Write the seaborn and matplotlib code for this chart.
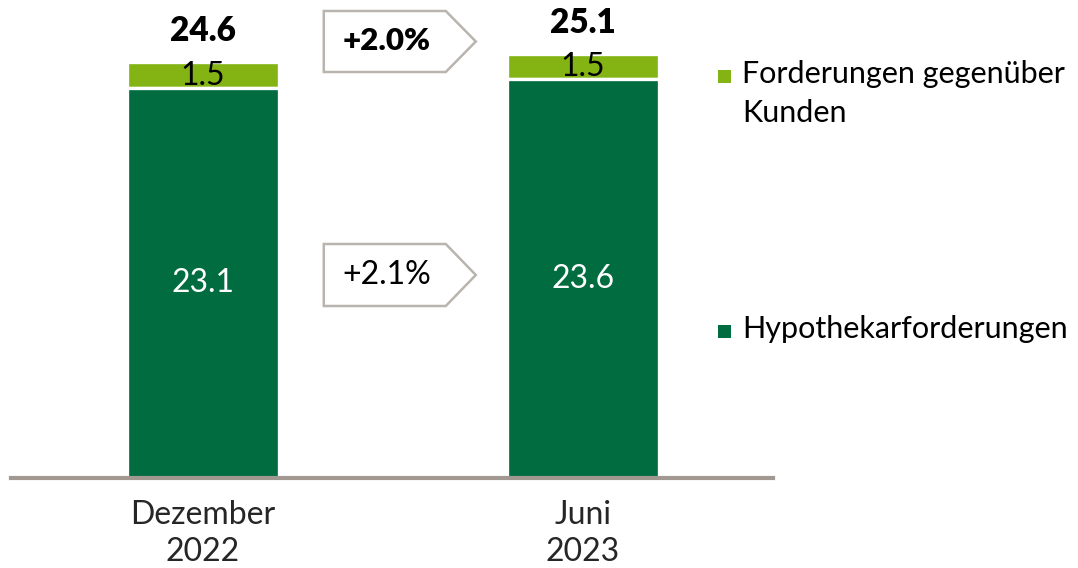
import matplotlib
matplotlib.use("Agg")
import matplotlib.pyplot as plt
from matplotlib.patches import Polygon, Rectangle
import seaborn as sns
import pandas as pd

# ---- data ----
categories = ["Dezember\n2022", "Juni\n2023"]
hypothekar = [23.1, 23.6]
forderungen = [1.5, 1.5]
totals = [24.6, 25.1]
total_labels = ["24.6", "25.1"]
hypo_labels = ["23.1", "23.6"]
ford_labels = ["1.5", "1.5"]
growth_total = "+2.0%"
growth_hypo = "+2.1%"
series_names = ["Forderungen gegenüber\nKunden", "Hypothekarforderungen"]

DARK = "#006c3f"
LIGHT = "#84b414"
GRAY = "#b9b4ae"
AXIS = "#a09891"

sns.set_theme(style="white")
plt.rcParams["font.family"] = ["Lato", "DejaVu Sans"]

df = pd.DataFrame({"cat": categories, "hypo": hypothekar, "ford": forderungen})

fig = plt.figure(figsize=(10.78, 5.68), dpi=100)
W, H = 1078, 568
ax = fig.add_axes([11 / W, 1 - 478 / H, (773 - 11) / W, 478 / H])

sns.barplot(data=df, x="cat", y="ford", bottom=df["hypo"], color=LIGHT, width=0.40,
            edgecolor="white", linewidth=2.4, saturation=1, ax=ax, zorder=2)
sns.barplot(data=df, x="cat", y="hypo", color=DARK, width=0.40,
            edgecolor="white", linewidth=2.4, saturation=1, ax=ax, zorder=2)

ax.set_xlim(-0.505, 1.5)
ax.set_ylim(0, 478 / 16.9)
ax.set_xlabel("")
ax.set_ylabel("")
ax.set_yticks([])
for s in ["top", "right", "left"]:
    ax.spines[s].set_visible(False)
ax.spines["bottom"].set_color(AXIS)
ax.spines["bottom"].set_linewidth(3)
ax.spines["bottom"].set_zorder(5)
ax.tick_params(axis="x", length=0, pad=16, labelsize=23)
for lbl in ax.get_xticklabels():
    lbl.set_linespacing(1.3)

# labels
for i in range(len(categories)):
    ax.text(i, hypothekar[i] / 2, hypo_labels[i], ha="center", va="center",
            color="white", fontsize=23, zorder=4)
    ax.text(i, hypothekar[i] + forderungen[i] / 2 - 0.05, ford_labels[i], ha="center",
            va="center", color="black", fontsize=23, zorder=4)
    ax.annotate(total_labels[i], (i, totals[i]), xytext=(0, 15), textcoords="offset points",
                ha="center", va="baseline", fontsize=24, fontweight="heavy", color="black")

# callout arrows (in data coordinates)
def callout(y_top, y_bot, text, bold):
    x0, x1, xt = 0.318, 0.639, 0.718
    ym = (y_top + y_bot) / 2
    poly = Polygon([(x0, y_top), (x1, y_top), (xt, ym), (x1, y_bot), (x0, y_bot)],
                   closed=True, facecolor="white", edgecolor=GRAY, linewidth=1.8,
                   zorder=3, clip_on=False)
    ax.add_patch(poly)
    ax.text((x0 + x1) / 2 + 0.005, ym, text, ha="center", va="center",
            fontsize=22.5 if bold else 23,
            fontweight="heavy" if bold else "normal", color="black", zorder=4)

callout((478 - 11) / 16.9, (478 - 72) / 16.9, growth_total, True)
callout((478 - 244) / 16.9, (478 - 306) / 16.9, growth_hypo, False)

# legend
leg_y = [76, 331]
for name, col, yy in zip(series_names, [LIGHT, DARK], leg_y):
    fig.patches.append(Rectangle((718 / W, 1 - (yy + 6.5) / H), 13 / W, 13 / H,
                                 transform=fig.transFigure, facecolor=col, edgecolor="none"))
    if "\n" in name:
        fig.text(742 / W, 1 - (yy - 16) / H, name, ha="left", va="top",
                 fontsize=22, color="black", linespacing=1.47)
    else:
        fig.text(742 / W, 1 - (yy - 2) / H, name, ha="left", va="center",
                 fontsize=22, color="black")

fig.savefig("out.png", dpi=100)
